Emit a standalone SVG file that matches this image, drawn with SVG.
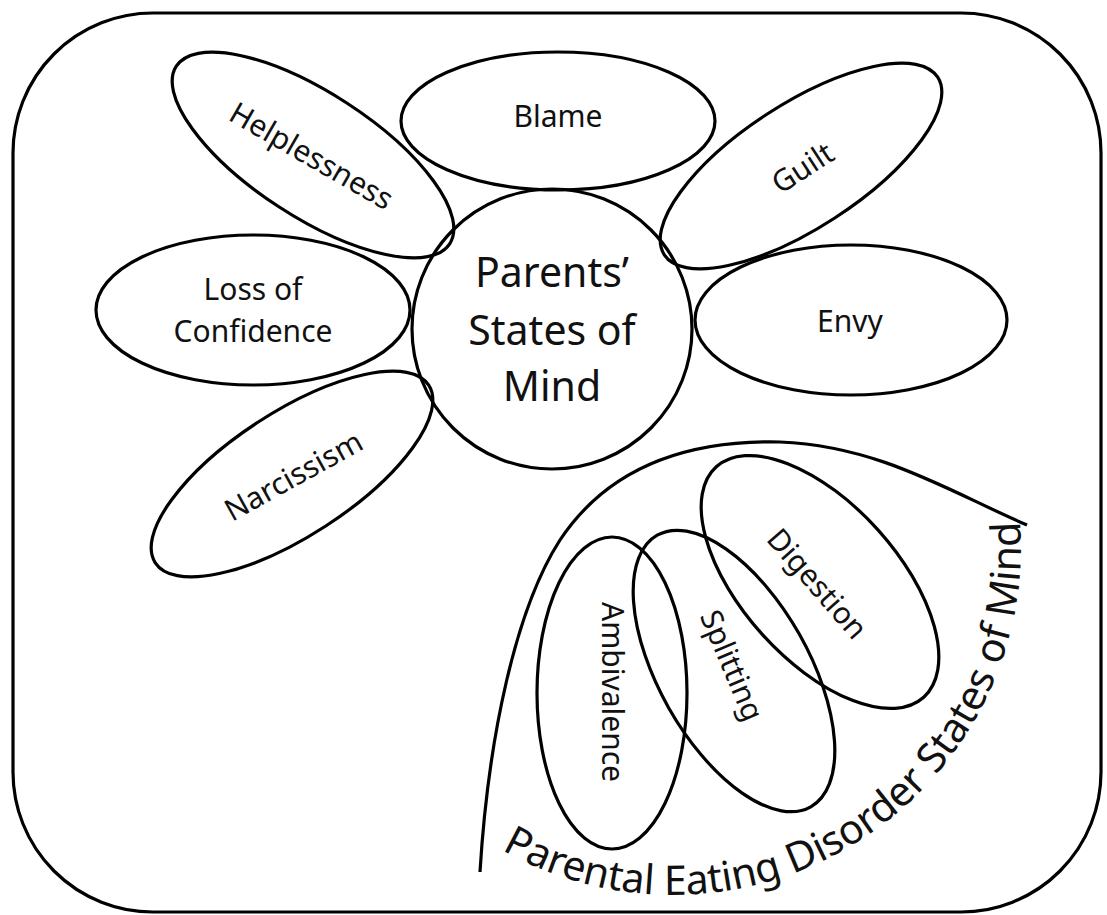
<svg xmlns="http://www.w3.org/2000/svg" width="1107" height="915" viewBox="0 0 1107 915">
<style>
.s{fill:none;stroke:#000;stroke-width:3.2}
.t{font-family:"Noto Sans","Open Sans",sans-serif;font-size:30px;fill:#111;text-anchor:middle}
.r{dominant-baseline:central}
.c{font-family:"Noto Sans","Open Sans",sans-serif;font-size:41px;fill:#111;text-anchor:middle}
.a{font-family:"Noto Sans","Open Sans",sans-serif;font-size:41px;fill:#111}
</style>
<defs>
<path id="arc" d="M 501.7 849.9 A 348 348 0 0 0 1019 510.6"/>
</defs>
<rect x="13" y="13" width="1088" height="899" rx="140" ry="140" class="s"/>
<g id="helplessness"><ellipse cx="313" cy="155" rx="163" ry="62" transform="rotate(33 313 155)" class="s"/><text class="t r" x="312" y="155" transform="rotate(30 312 155)">Helplessness</text></g>
<g id="blame"><ellipse cx="558" cy="121" rx="157" ry="69" class="s"/><text class="t" x="558" y="127">Blame</text></g>
<g id="guilt"><ellipse cx="801" cy="166" rx="163" ry="62" transform="rotate(-33 801 166)" class="s"/><text class="t r" x="802" y="167" transform="rotate(-33 802 167)">Guilt</text></g>
<g id="loss"><ellipse cx="253" cy="310" rx="157" ry="75" class="s"/><text class="t" x="253" y="300">Loss of</text><text class="t" x="253" y="342">Confidence</text></g>
<g id="envy"><ellipse cx="851" cy="320" rx="156" ry="75" class="s"/><text class="t" x="850" y="332">Envy</text></g>
<g id="narcissism"><ellipse cx="292" cy="474" rx="163" ry="62" transform="rotate(-33 292 474)" class="s"/><text class="t r" x="293" y="475" transform="rotate(-29 293 475)">Narcissism</text></g>
<g id="parents"><circle cx="552" cy="329" r="140" class="s"/><text class="c" x="552" y="287">Parents’</text><text class="c" x="552" y="345">States of</text><text class="c" x="552" y="401">Mind</text></g>
<g id="ped"><path class="s" d="M480,872 C488,740 515,610 560,540 C610,465 690,440 780,442 C880,446 950,492 1027,525"/><text class="a"><textPath href="#arc" textLength="751" lengthAdjust="spacing">Parental Eating Disorder States of Mind</textPath></text></g>
<g id="ambivalence"><ellipse cx="612" cy="693" rx="75" ry="156" class="s"/><text class="t r" x="613" y="692" transform="rotate(90 613 692)">Ambivalence</text></g>
<g id="splitting"><ellipse cx="734" cy="671" rx="75" ry="156" transform="rotate(-29.5 734 671)" class="s"/><text class="t r" x="733" y="665" transform="rotate(67 733 665)">Splitting</text></g>
<g id="digestion"><ellipse cx="820" cy="582" rx="78" ry="155" transform="rotate(-42 820 582)" class="s"/><text class="t r" x="818" y="583" transform="rotate(49 818 583)">Digestion</text></g>
</svg>
